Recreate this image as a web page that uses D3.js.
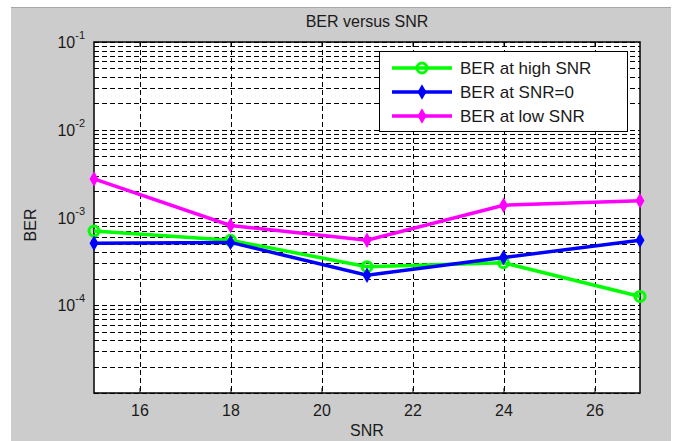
<!DOCTYPE html>
<html>
<head>
<meta charset="utf-8">
<script src="https://cdn.jsdelivr.net/npm/d3@7"></script>
<style>
  body { margin: 0; background: #fff; }
  text { font-family: "Liberation Sans", Arial, sans-serif; fill: #1a1a1a; }
</style>
</head>
<body>
<svg width="675" height="441"></svg>
<script>
var svg = d3.select('svg');

// data
var snr = [15, 18, 21, 24, 27];
var berHigh = [7.0e-4, 5.5e-4, 2.75e-4, 3.05e-4, 1.26e-4];
var berZero = [5.1e-4, 5.2e-4, 2.2e-4, 3.5e-4, 5.5e-4];
var berLow = [2.75e-3, 8.1e-4, 5.5e-4, 1.38e-3, 1.55e-3];
var xTicks = [16, 18, 20, 22, 24, 26];
var yDecades = [-5, -4, -3, -2, -1];
var seriesNames = ['BER at high SNR', 'BER at SNR=0', 'BER at low SNR'];
var seriesColors = ['#00ff00', '#0000ff', '#ff00ff'];

// plot box (note: "top" is reserved on window)
var pL = 94, pR = 640, pT = 42, pB = 393;

// figure background
svg.append('rect').attr('x', 11).attr('y', 7).attr('width', 660).attr('height', 434).attr('fill', '#cccccc');
svg.append('line').attr('x1', 11).attr('x2', 671).attr('y1', 7.5).attr('y2', 7.5).attr('stroke', '#a8a8a8');

var x = d3.scaleLinear().domain([15, 27]).range([pL, pR]);
var y = d3.scaleLog().domain([1e-5, 1e-1]).range([pB, pT]);

svg.append('rect').attr('x', pL).attr('y', pT).attr('width', pR - pL).attr('height', pB - pT).attr('fill', '#fff');

// grid lines
var yGrid = [];
yDecades.forEach(function(p) {
    if (p == -1) { yGrid.push(Math.pow(10, p)); return; }
    for (var k = 1; k <= 9; k++) yGrid.push(k * Math.pow(10, p));
});

var grid = svg.append('g');
grid.selectAll('line.h')
    .data(yGrid)
    .enter()
    .append('line')
    .attr('x1', pL).attr('x2', pR)
    .attr('y1', function(d) { return Math.round(y(d)) + 0.5; })
    .attr('y2', function(d) { return Math.round(y(d)) + 0.5; })
    .attr('stroke', '#000').attr('stroke-width', 1).attr('stroke-dasharray', '5,3');
grid.selectAll('line.v')
    .data(xTicks)
    .enter()
    .append('line')
    .attr('x1', function(d) { return Math.round(x(d)) + 0.5; })
    .attr('x2', function(d) { return Math.round(x(d)) + 0.5; })
    .attr('y1', pT).attr('y2', pB)
    .attr('stroke', '#000').attr('stroke-width', 1).attr('stroke-dasharray', '5,3');

// axes (ticks inside)
var xAxis = d3.axisBottom(x).tickValues(xTicks).tickSize(-5).tickPadding(12);
var gx = svg.append('g').attr('transform', 'translate(0,' + pB + ')').call(xAxis);
gx.select('.domain').remove();
gx.selectAll('text').attr('font-size', 16).attr('font-family', '"Liberation Sans", Arial, sans-serif').attr('fill', '#1a1a1a');
gx.selectAll('line').attr('stroke', '#000');
svg.append('g').attr('transform', 'translate(0,' + pT + ')')
    .call(d3.axisTop(x).tickValues(xTicks).tickSize(-5).tickFormat(''))
    .select('.domain').remove();

var yMajor = yDecades.map(function(p) { return Math.pow(10, p); });
var yLab = svg.append('g');
yMajor.forEach(function(v, i) {
    if (i == 0) return; // 10^-5 not labelled in the picture
    var t = yLab.append('text')
        .attr('x', 85).attr('y', y(v) + 6)
        .attr('text-anchor', 'end').attr('font-size', 16);
    t.append('tspan').text('10');
    t.append('tspan').attr('dy', -9).attr('font-size', 11).text(String(yDecades[i]));
});

svg.append('rect').attr('x', pL).attr('y', pT).attr('width', pR - pL).attr('height', pB - pT)
    .attr('fill', 'none').attr('stroke', '#000').attr('stroke-width', 1.5);

// lines
var line = d3.line()
    .x(function(d) { return x(d[0]); })
    .y(function(d) { return y(d[1]); });

var allSeries = [berHigh, berZero, berLow];
var diamond = d3.symbol().type(d3.symbolDiamond).size(45);

allSeries.forEach(function(vals, i) {
    var pts = snr.map(function(s, j) { return [s, vals[j]]; });
    svg.append('path')
        .attr('d', line(pts))
        .attr('fill', 'none')
        .attr('stroke', seriesColors[i])
        .attr('stroke-width', 3.5);
    if (i == 0) {
        svg.selectAll('circle.m' + i)
            .data(pts)
            .enter()
            .append('circle')
            .attr('cx', function(d) { return x(d[0]); })
            .attr('cy', function(d) { return y(d[1]); })
            .attr('r', 5)
            .attr('fill', 'none')
            .attr('stroke', seriesColors[i])
            .attr('stroke-width', 3);
    } else {
        svg.selectAll('path.m' + i)
            .data(pts)
            .enter()
            .append('path')
            .attr('d', diamond)
            .attr('transform', function(d) { return 'translate(' + x(d[0]) + ',' + y(d[1]) + ')'; })
            .attr('fill', seriesColors[i])
            .attr('stroke', seriesColors[i])
            .attr('stroke-width', 1.5);
    }
});

// legend
var lg = svg.append('g');
lg.append('rect').attr('x', 379.5).attr('y', 51.5).attr('width', 248).attr('height', 80)
    .attr('fill', '#fff').attr('stroke', '#000').attr('stroke-width', 1);
seriesNames.forEach(function(name, i) {
    var yy = 68 + i * 24;
    lg.append('line').attr('x1', 392).attr('x2', 452).attr('y1', yy).attr('y2', yy)
        .attr('stroke', seriesColors[i]).attr('stroke-width', 3.5);
    if (i == 0) {
        lg.append('circle').attr('cx', 422).attr('cy', yy).attr('r', 5)
            .attr('fill', 'none').attr('stroke', seriesColors[i]).attr('stroke-width', 3);
    } else {
        lg.append('path').attr('d', diamond).attr('transform', 'translate(422,' + yy + ')')
            .attr('fill', seriesColors[i]).attr('stroke', seriesColors[i]).attr('stroke-width', 1.5);
    }
    lg.append('text').attr('x', 460).attr('y', yy + 6).attr('font-size', 17).text(name);
});

// titles
svg.append('text').attr('x', (pL + pR) / 2).attr('y', 27).attr('text-anchor', 'middle')
    .attr('font-size', 16).text('BER versus SNR');
svg.append('text').attr('x', (pL + pR) / 2).attr('y', 436).attr('text-anchor', 'middle')
    .attr('font-size', 16).text('SNR');
svg.append('text').attr('transform', 'translate(36,225) rotate(-90)').attr('text-anchor', 'middle')
    .attr('font-size', 16).text('BER');
</script>
</body>
</html>
